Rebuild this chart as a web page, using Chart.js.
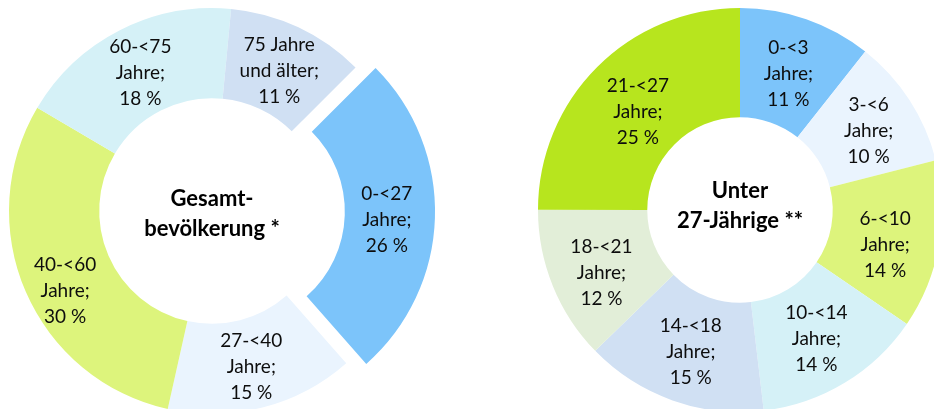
<!DOCTYPE html>
<html>
<head>
<meta charset="utf-8">
<script src="https://cdn.jsdelivr.net/npm/chart.js@4.4.1/dist/chart.umd.min.js"></script>
<style>
  html, body { margin: 0; padding: 0; background: #ffffff; width: 934px; height: 409px; overflow: hidden; }
  .wrap { position: absolute; height: 440px; }
  #w1 { left: -28px; top: -9px; width: 480px; }
  #w2 { left: 520px; top: -10px; width: 440px; }
</style>
</head>
<body>
<div class="wrap" id="w1"><canvas id="c1"></canvas></div>
<div class="wrap" id="w2"><canvas id="c2"></canvas></div>
<script>
// ---- Data: Gesamtbevölkerung ----
const leftTitle = ["Gesamt-", "bevölkerung *"];
const leftCategories = [["0-<27", "Jahre;"], ["27-<40", "Jahre;"], ["40-<60", "Jahre;"], ["60-<75", "Jahre;"], ["75 Jahre", "und älter;"]];
const leftValues = [26, 15, 30, 18, 11];
const leftColors = ["#7CC4FA", "#EAF4FE", "#DDF47C", "#D5F1F7", "#D0E0F3"];
const leftExploded = [true, false, false, false, false];

// ---- Data: Unter 27-Jährige ----
const rightTitle = ["Unter", "27-Jährige **"];
const rightCategories = [["0-<3", "Jahre;"], ["3-<6", "Jahre;"], ["6-<10", "Jahre;"], ["10-<14", "Jahre;"], ["14-<18", "Jahre;"], ["18-<21", "Jahre;"], ["21-<27", "Jahre;"]];
const rightValues = [10.65, 10.4, 13.5, 13.6, 14.6, 12.3, 25];
const rightColors = ["#7CC4FA", "#EAF4FE", "#DDF47C", "#D5F1F7", "#D0E0F3", "#E2EED8", "#B7E51E"];

const FONT = "Lato, 'Liberation Sans', sans-serif";
const EXPLODE = 80; // Chart.js arc offset (drawn shift = offset / 4)

const labelPlugin = {
  id: 'sliceLabels',
  afterDatasetsDraw(chart, args, opts) {
    const ctx = chart.ctx;
    const meta = chart.getDatasetMeta(0);
    const ds = chart.data.datasets[0];
    const nudges = opts.nudges || {};
    ctx.save();
    ctx.fillStyle = '#0d0d0d';
    ctx.font = "19px " + FONT;
    ctx.textAlign = 'center';
    ctx.textBaseline = 'middle';
    meta.data.forEach((arc, i) => {
      const mid = (arc.startAngle + arc.endAngle) / 2;
      const off = (arc.options.offset || 0) / 4;
      const r = (arc.innerRadius + arc.outerRadius) / 2 + off;
      const n = nudges[i] || [0, 0];
      const px = arc.x + Math.cos(mid) * r + n[0];
      const py = arc.y + Math.sin(mid) * r + 3 + n[1];
      const lines = chart.data.labels[i].concat([Math.round(ds.data[i]) + ' %']);
      const lh = 26;
      lines.forEach((t, k) => {
        ctx.fillText(t, px, py + (k - (lines.length - 1) / 2) * lh);
      });
    });
    const a0 = meta.data[0];
    ctx.font = "bold 22px " + FONT;
    ctx.fillStyle = '#000000';
    const title = opts.title;
    title.forEach((t, k) => {
      ctx.fillText(t, a0.x, a0.y + opts.titleDy + (k - (title.length - 1) / 2) * 30);
    });
    ctx.restore();
  }
};

function makeChart(id, labels, values, colors, exploded, rotation, radius, cutout, title, titleDy, nudges) {
  return new Chart(document.getElementById(id), {
    type: 'doughnut',
    data: {
      labels: labels,
      datasets: [{
        data: values,
        backgroundColor: colors,
        borderWidth: 0,
        offset: exploded.map(e => e ? EXPLODE : 0)
      }]
    },
    options: {
      responsive: true,
      maintainAspectRatio: false,
      animation: false,
      rotation: rotation,
      radius: radius,
      cutout: cutout,
      layout: { padding: 0 },
      plugins: {
        legend: { display: false },
        tooltip: { enabled: false },
        sliceLabels: { title: title, titleDy: titleDy, nudges: nudges }
      }
    },
    plugins: [labelPlugin]
  });
}

makeChart('c1', leftCategories, leftValues, leftColors, leftExploded, 45, 203, 100, leftTitle, 3, {0: [-3, 0], 2: [-2, 14]});
makeChart('c2', rightCategories, rightValues, rightColors, rightValues.map(() => false), 0, 202, 101, rightTitle, -4, {1: [5, -2], 2: [0, 6], 5: [-2, 4], 6: [2, 3]});
</script>
</body>
</html>
